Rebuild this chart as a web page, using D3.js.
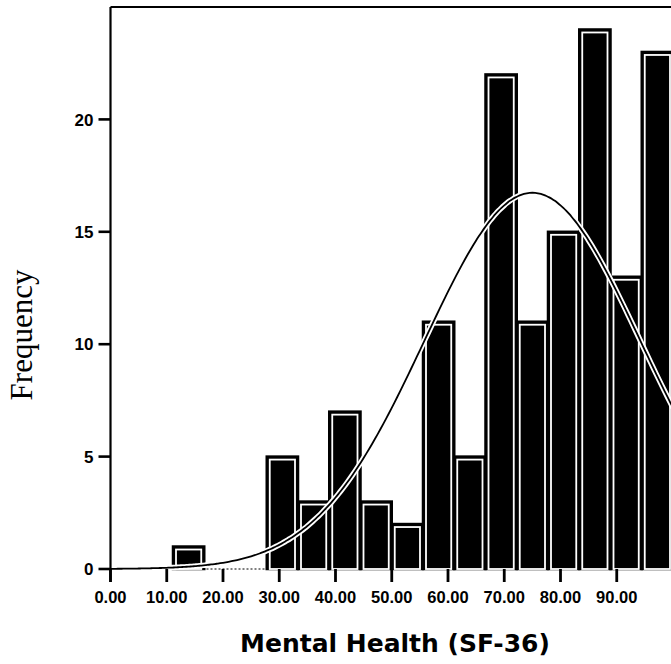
<!DOCTYPE html>
<html>
<head>
<meta charset="utf-8">
<script src="https://cdn.jsdelivr.net/npm/d3@7"></script>
<style>
  body { margin: 0; background: #fff; }
  svg { display: block; }
</style>
</head>
<body>
<script>
// histogram of Mental Health (SF-36), 18 bins of width 100/18
const binWidth = 100 / 18;
const counts = [0, 0, 1, 0, 0, 5, 3, 7, 3, 2, 11, 5, 22, 11, 15, 24, 13, 23];
const xTicks = [0, 10, 20, 30, 40, 50, 60, 70, 80, 90];
const yTicks = [0, 5, 10, 15, 20];
// fitted normal curve
const curveMean = 75;
const curveSd = 19.2;

const width = 671, height = 664;
const svg = d3.select("body").append("svg")
  .attr("width", width).attr("height", height);

const x = d3.scaleLinear().domain([0, 100]).range([110.5, 673]);
const y = d3.scaleLinear().domain([0, 25]).range([569, 7]);

const tickFont = "'Liberation Sans', Arial, sans-serif";

// frame (top)
svg.append("line")
  .attr("x1", x(0)).attr("x2", width + 5)
  .attr("y1", y(25)).attr("y2", y(25))
  .attr("stroke", "#000").attr("stroke-width", 2);

// dotted baseline
svg.append("line")
  .attr("x1", x(0)).attr("x2", width)
  .attr("y1", y(0)).attr("y2", y(0))
  .attr("stroke", "#000").attr("stroke-width", 1)
  .attr("stroke-dasharray", "2,2");

// bars
const bars = counts.map((c, i) => ({x0: i * binWidth, x1: (i + 1) * binWidth, n: c}))
  .filter(d => d.n > 0);

const bg = svg.append("g");
bg.selectAll("rect.outer")
  .data(bars)
  .enter().append("rect")
  .attr("class", "outer")
  .attr("x", d => x(d.x0))
  .attr("y", d => y(d.n))
  .attr("width", d => x(d.x1) - x(d.x0))
  .attr("height", d => y(0) - y(d.n))
  .attr("fill", "#000")
  .attr("stroke", "#000")
  .attr("stroke-width", 2.5);

bg.selectAll("rect.inner")
  .data(bars)
  .enter().append("rect")
  .attr("class", "inner")
  .attr("x", d => x(d.x0) + 3)
  .attr("y", d => y(d.n) + 3)
  .attr("width", d => x(d.x1) - x(d.x0) - 6)
  .attr("height", d => Math.max(0, y(0) - y(d.n) - 3))
  .attr("fill", "none")
  .attr("stroke", "#fff")
  .attr("stroke-width", 1.8);

// normal curve
const total = d3.sum(counts);
const pdf = v => total * binWidth / (curveSd * Math.sqrt(2 * Math.PI)) *
  Math.exp(-0.5 * Math.pow((v - curveMean) / curveSd, 2));
const pts = d3.range(0, 100.01, 0.5).map(v => [v, pdf(v)]);
const line = d3.line().x(d => x(d[0])).y(d => y(d[1])).curve(d3.curveBasis);

svg.append("path").datum(pts)
  .attr("d", line)
  .attr("fill", "none").attr("stroke", "#fff").attr("stroke-width", 5.5);
svg.append("path").datum(pts)
  .attr("d", line)
  .attr("fill", "none").attr("stroke", "#000").attr("stroke-width", 1.8);

// y axis
svg.append("line")
  .attr("x1", x(0)).attr("x2", x(0))
  .attr("y1", y(25)).attr("y2", y(0) + 13)
  .attr("stroke", "#000").attr("stroke-width", 2.2);

const ya = svg.append("g");
ya.selectAll("line")
  .data(yTicks).enter().append("line")
  .attr("x1", x(0) - 12).attr("x2", x(0))
  .attr("y1", d => y(d)).attr("y2", d => y(d))
  .attr("stroke", "#000").attr("stroke-width", 2.6);
ya.selectAll("text")
  .data(yTicks).enter().append("text")
  .attr("x", x(0) - 17)
  .attr("y", d => y(d))
  .attr("dy", "0.36em")
  .attr("text-anchor", "end")
  .style("font-family", tickFont)
  .style("font-weight", "bold")
  .style("font-size", "17px")
  .text(d => d);

// x axis ticks
const xa = svg.append("g");
xa.selectAll("line")
  .data(xTicks).enter().append("line")
  .attr("x1", d => x(d)).attr("x2", d => x(d))
  .attr("y1", y(0)).attr("y2", y(0) + 13)
  .attr("stroke", "#000").attr("stroke-width", 2.8);
xa.selectAll("text")
  .data(xTicks).enter().append("text")
  .attr("x", d => x(d))
  .attr("y", 603)
  .attr("text-anchor", "middle")
  .style("font-family", tickFont)
  .style("font-weight", "bold")
  .style("font-size", "16.5px")
  .text(d => d.toFixed(2));

// axis titles
svg.append("text")
  .attr("x", 395).attr("y", 652)
  .attr("text-anchor", "middle")
  .style("font-family", "'DejaVu Sans', Verdana, sans-serif")
  .style("font-weight", "bold")
  .style("font-size", "25px")
  .text("Mental Health (SF-36)");

svg.append("text")
  .attr("transform", "translate(32,335) rotate(-90)")
  .attr("text-anchor", "middle")
  .style("font-family", "'Liberation Serif', 'Times New Roman', serif")
  .style("font-size", "31px")
  .text("Frequency");
</script>
</body>
</html>
